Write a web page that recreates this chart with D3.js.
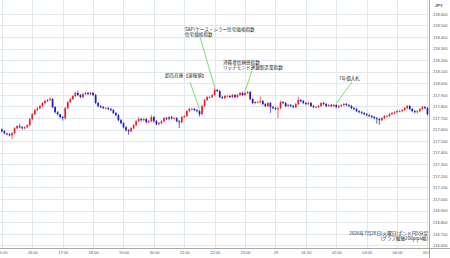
<!DOCTYPE html>
<html>
<head>
<meta charset="utf-8">
<script src="https://cdn.jsdelivr.net/npm/d3@7"></script>
<style>
  html, body { margin: 0; padding: 0; background: #fff; }
  svg { display: block; }
  .lbl text { font-family: "Liberation Sans", Arial, sans-serif; font-size: 4px; fill: #555; }
  .note { font-family: "Noto Sans CJK JP", sans-serif; font-size: 4.6px; fill: #222; }
</style>
</head>
<body>
<div id="chart"></div>
<script>
// GBP/JPY 5-minute candles, 2026-07-28 15:00 -> 07-29 05:00 (JST)
const firstOpen = 217.600;
const closes = [
  // 15:00
  217.585, 217.568, 217.559, 217.550, 217.568, 217.611, 217.629, 217.620, 217.611, 217.620, 217.637, 217.690,
  // 16:00
  217.733, 217.768, 217.785, 217.803, 217.829, 217.846, 217.855, 217.863, 217.794, 217.750, 217.733, 217.707,
  // 17:00
  217.698, 217.785, 217.837, 217.863, 217.890, 217.916, 217.898, 217.881, 217.907, 217.916, 217.907, 217.916,
  // 18:00
  217.898, 217.829, 217.803, 217.794, 217.785, 217.785, 217.777, 217.768, 217.742, 217.724, 217.681, 217.655,
  // 19:00
  217.620, 217.594, 217.585, 217.611, 217.637, 217.672, 217.690, 217.681, 217.690, 217.663, 217.672, 217.707,
  // 20:00
  217.672, 217.646, 217.655, 217.672, 217.698, 217.690, 217.707, 217.698, 217.698, 217.672, 217.663, 217.707,
  // 21:00
  217.716, 217.759, 217.777, 217.777, 217.768, 217.759, 217.733, 217.803, 217.855, 217.881, 217.881, 217.898,
  // 22:00
  217.942, 217.933, 217.881, 217.872, 217.890, 217.890, 217.881, 217.898, 217.881, 217.898, 217.916, 217.898,
  // 23:00
  217.916, 217.924, 217.863, 217.829, 217.837, 217.837, 217.846, 217.820, 217.803, 217.829, 217.794, 217.785,
  // 00:00
  217.777, 217.785, 217.837, 217.829, 217.803, 217.811, 217.803, 217.794, 217.820, 217.855, 217.846, 217.829,
  // 01:00
  217.820, 217.829, 217.803, 217.794, 217.794, 217.803, 217.829, 217.820, 217.803, 217.811, 217.803, 217.811,
  // 02:00
  217.794, 217.803, 217.811, 217.820, 217.811, 217.803, 217.785, 217.777, 217.759, 217.750, 217.742, 217.733,
  // 03:00
  217.724, 217.716, 217.707, 217.698, 217.690, 217.681, 217.698, 217.716, 217.716, 217.733, 217.742, 217.750,
  // 04:00
  217.759, 217.759, 217.768, 217.785, 217.803, 217.777, 217.759, 217.750, 217.759, 217.777, 217.794, 217.785,
  // 05:00
  217.733
];
// wick lengths beyond the body, in pips
const upWick = [
  1,1,0,1,1,1,1,2,1,1,1,1,
  1,1,1,1,1,1,1,2,1,1,1,0,
  1,1,1,1,1,1,2,1,1,1,1,1,
  1,1,1,1,1,1,1,1,1,1,1,1,
  1,1,1,1,1,1,2,1,1,1,1,2,
  1,1,1,1,1,1,1,1,1,1,1,1,
  1,1,1,1,1,1,1,1,1,1,1,1,
  2,1,1,1,1,1,1,1,1,1,1,1,
  1,1,1,1,1,1,4,1,1,1,1,1,
  1,1,1,1,1,1,1,1,1,3,1,1,
  1,1,1,1,1,1,1,1,1,1,1,1,
  1,1,1,1,1,1,1,1,1,1,1,1,
  1,1,1,1,1,1,1,1,1,1,1,1,
  1,1,1,1,1,1,1,1,1,1,1,1,
  1
];
const downWick = [
  1,1,1,1,3,1,1,1,1,1,1,1,
  1,1,1,1,1,1,1,1,1,1,1,1,
  2,1,1,1,1,1,1,1,1,1,1,1,
  1,1,1,1,1,1,1,1,1,1,1,1,
  1,1,3,1,1,1,1,1,1,1,1,1,
  1,1,1,1,1,1,1,1,1,1,5,1,
  1,1,1,1,1,1,2,1,1,1,1,1,
  1,1,1,1,1,1,1,1,1,1,1,1,
  1,1,1,1,1,1,1,1,1,1,5,1,
  1,8,1,1,1,1,1,1,1,1,1,1,
  1,1,1,1,1,1,1,1,1,1,1,1,
  1,1,1,1,1,1,1,1,1,1,1,1,
  1,1,1,1,4,4,1,1,1,1,1,1,
  1,1,1,1,1,1,1,1,1,1,1,1,
  1
];
const xTickLabels = ["15:00","16:00","17:00","18:00","19:00","20:00","21:00","22:00","23:00","29","01:00","02:00","03:00","04:00","05:00"];
const yTickValues = [216.6,216.7,216.8,216.9,217.0,217.1,217.2,217.3,217.4,217.5,217.6,217.7,217.8,217.9,218.0,218.1,218.2,218.3,218.4,218.5,218.6];
const events = [
  { time: "21:30", lines: ["卸売在庫【速報値】"] },
  { time: "22:00", lines: ["S&P/ケース・シラー住宅価格指数", "住宅価格指数"] },
  { time: "23:00", lines: ["消費者信頼感指数", "リッチモンド連銀製造業指数"] },
  { time: "02:00", lines: ["7年債入札"] }
];
const footer = ["2026年7月28日(火曜日)ポンド円5分足", "(グラフ縦軸200pips幅)"];

const width = 450, height = 258;
const plotRight = 429.5, plotBottom = 248;
const start = new Date(2026, 6, 28, 15, 0);

const x = d3.scaleTime()
  .domain([new Date(2026, 6, 28, 14, 56, 15), new Date(2026, 6, 29, 5, 4, 0)])
  .range([0, plotRight]);
const y = d3.scaleLinear().domain([216.6, 218.6]).range([245.3, 13.8]);

const candles = closes.map((c, i) => {
  const o = i === 0 ? firstOpen : closes[i - 1];
  return {
    t: d3.timeMinute.offset(start, i * 5),
    o, c,
    h: Math.max(o, c) + upWick[i] * 0.01,
    l: Math.min(o, c) - downWick[i] * 0.01
  };
});
const hourTicks = d3.timeHour.range(start, new Date(2026, 6, 29, 5, 30));

const svg = d3.select('#chart').append('svg')
  .attr('width', width).attr('height', height);

svg.append('defs').append('clipPath').attr('id', 'plotClip')
  .append('rect').attr('x', 0).attr('y', 0).attr('width', plotRight).attr('height', height);

// grid
const grid = svg.append('g').attr('stroke', '#e2e9ee').attr('stroke-width', 1);
grid.selectAll('.hg').data(yTickValues).enter().append('line')
  .attr('x1', 0).attr('x2', plotRight)
  .attr('y1', d => Math.round(y(d)) + 0.5).attr('y2', d => Math.round(y(d)) + 0.5);
grid.selectAll('.vg').data(hourTicks).enter().append('line')
  .attr('y1', 0).attr('y2', plotBottom)
  .attr('x1', d => Math.round(x(d)) + 0.5).attr('x2', d => Math.round(x(d)) + 0.5);

// axes lines
svg.append('line').attr('x1', plotRight).attr('x2', plotRight).attr('y1', 0).attr('y2', height)
  .attr('stroke', '#a8a8a8').attr('stroke-width', 1);
svg.append('line').attr('x1', 0).attr('x2', width).attr('y1', plotBottom + 0.5).attr('y2', plotBottom + 0.5)
  .attr('stroke', '#a8a8a8').attr('stroke-width', 1);

// y axis labels
const yAxis = svg.append('g').attr('class', 'lbl')
  .attr('transform', `translate(${plotRight},0)`)
  .call(d3.axisRight(y).tickValues(yTickValues).tickSize(0).tickPadding(3.5).tickFormat(d3.format('.3f')));
yAxis.select('.domain').remove();
svg.append('text').attr('x', 435).attr('y', 7)
  .style('font-family', '"Liberation Sans", Arial, sans-serif').style('font-size', '4.2px')
  .style('font-weight', 'bold').attr('fill', '#555').text('JPY');

// x axis labels
const xAxis = svg.append('g').attr('class', 'lbl').attr('clip-path', 'url(#plotClip)')
  .attr('transform', `translate(0,${plotBottom})`)
  .call(d3.axisBottom(x).tickValues(hourTicks).tickSize(0).tickPadding(3)
    .tickFormat((d, i) => xTickLabels[i]));
xAxis.select('.domain').remove();

// candles
const up = '#e8222c', down = '#1d1dc2';
const cg = svg.append('g');
cg.selectAll('.wick').data(candles).enter().append('line')
  .attr('x1', d => x(d.t)).attr('x2', d => x(d.t))
  .attr('y1', d => y(d.h)).attr('y2', d => y(d.l))
  .attr('stroke', d => d.c >= d.o ? up : down).attr('stroke-width', 0.7);
cg.selectAll('.body').data(candles).enter().append('rect')
  .attr('x', d => x(d.t) - 0.85).attr('width', 1.7)
  .attr('y', d => y(Math.max(d.o, d.c)))
  .attr('height', d => Math.max(0.7, Math.abs(y(d.o) - y(d.c))))
  .attr('fill', d => d.c >= d.o ? up : down);

// event notes
const notePos = [
  { tx: 165, ty: 77 },
  { tx: 185, ty: 30.5 },
  { tx: 223, ty: 64 },
  { tx: 339, ty: 80 }
];
const lineFrom = [[190, 82], [200, 37], [252, 70.5], [352, 82]];
events.forEach((ev, k) => {
  const [hh, mm] = ev.time.split(':').map(Number);
  const t = new Date(2026, 6, hh < 12 ? 29 : 28, hh, mm);
  const c = candles.find(d => +d.t === +t);
  svg.append('line')
    .attr('x1', lineFrom[k][0]).attr('y1', lineFrom[k][1])
    .attr('x2', x(t)).attr('y2', y(c.h) - 0.5)
    .attr('stroke', '#74d46c').attr('stroke-width', 0.9);
  ev.lines.forEach((s, j) => {
    svg.append('text').attr('class', 'note')
      .attr('x', notePos[k].tx).attr('y', notePos[k].ty + j * 5)
      .text(s);
  });
});

// footer
footer.forEach((s, j) => {
  svg.append('text').attr('class', 'note')
    .attr('x', 428).attr('y', 235 + j * 5.3).attr('text-anchor', 'end')
    .text(s);
});
</script>
</body>
</html>
